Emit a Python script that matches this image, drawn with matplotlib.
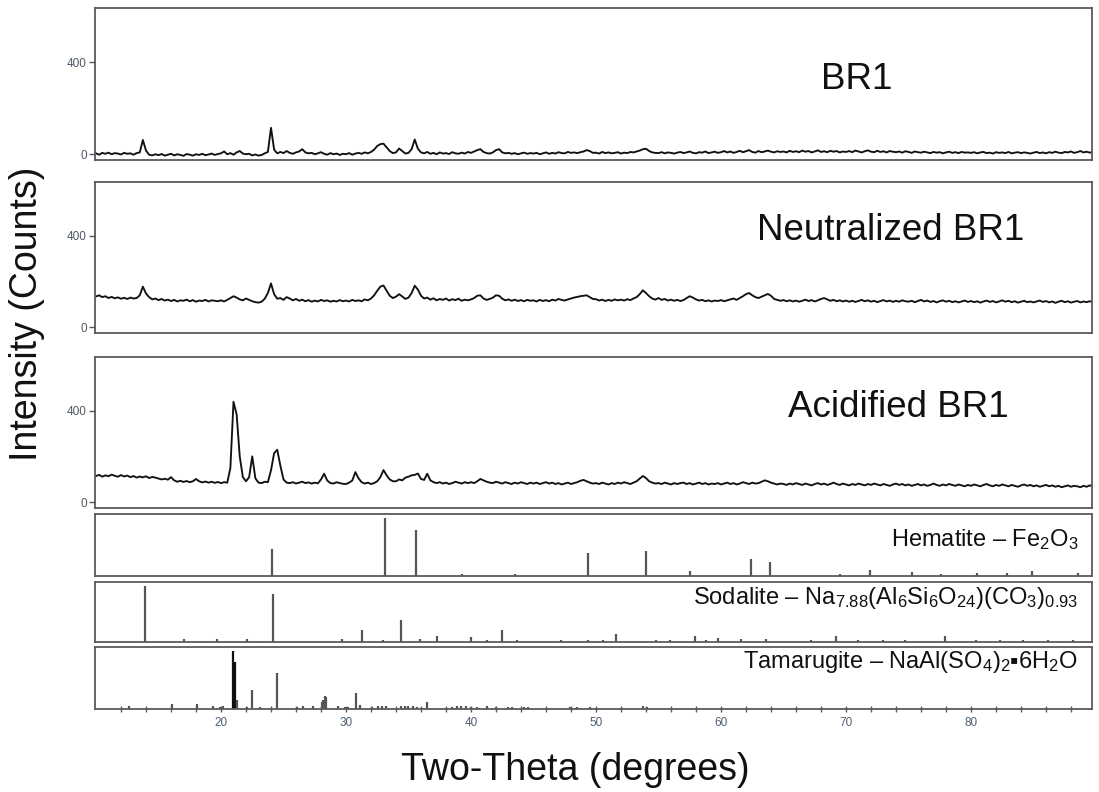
import numpy as np
import matplotlib.pyplot as plt

plt.rcParams['font.family'] = ['Liberation Sans', 'DejaVu Sans']
plt.rcParams['mathtext.fontset'] = 'custom'
plt.rcParams['mathtext.rm'] = 'Liberation Sans'
plt.rcParams['mathtext.it'] = 'Liberation Sans'
plt.rcParams['mathtext.default'] = 'regular'

# 2-theta sampling, 0.25 deg steps from 10 to 89.75
two_theta = np.round(np.arange(10, 89.76, 0.25), 2)

br1 = [
    4, -2, 6, 2, 7, 0, 5, 3, -1, 6, 2, 4, -2, 5, 8, 62, 16, -2, -5, 0,
    -4, 1, -6, -2, 2, -5, 0, -3, -7, 1, -2, -6, 0, -3, 2, -4, -1, 3, -3, 1,
    4, 12, 0, 5, -2, 8, 14, 3, 0, 2, -5, -1, -6, -3, 4, 10, 115, 20, 4, 10,
    5, 14, 6, 2, 8, 12, 22, 8, 4, 6, 0, 4, 9, 2, -2, 5, 0, 3, -3, 2,
    0, 5, -2, 3, 6, 2, 8, 4, 10, 20, 36, 44, 46, 30, 14, 5, 8, 25, 14, 3,
    6, 22, 64, 24, 8, 4, 10, 2, 6, 0, 8, 3, 5, 1, 9, 4, 2, 7, 3, 10,
    6, 12, 18, 22, 10, 5, 3, 8, 18, 22, 8, 4, 6, 2, 5, 0, 4, 7, 2, 5,
    3, 6, 0, 4, 8, 2, 6, 3, 9, 5, 4, 10, 6, 8, 5, 9, 12, 18, 14, 6,
    7, 3, 10, 5, 8, 4, 6, 9, 3, 7, 5, 10, 8, 12, 16, 22, 24, 14, 8, 6,
    5, 9, 4, 8, 6, 3, 7, 10, 5, 8, 12, 6, 4, 9, 7, 12, 5, 8, 11, 6,
    9, 14, 8, 12, 6, 10, 15, 9, 13, 18, 10, 7, 14, 9, 12, 16, 11, 8, 13, 10,
    12, 8, 15, 10, 13, 9, 16, 11, 14, 8, 12, 17, 10, 13, 9, 15, 11, 14, 8, 12,
    10, 14, 9, 16, 12, 8, 13, 17, 11, 9, 15, 10, 13, 8, 14, 11, 9, 12, 7, 13,
    10, 6, 12, 9, 7, 11, 8, 5, 10, 7, 9, 4, 8, 11, 6, 9, 5, 10, 7, 8,
    6, 9, 4, 8, 10, 5, 7, 3, 9, 6, 8, 5, 10, 4, 7, 9, 5, 8, 6, 3,
    7, 10, 5, 8, 4, 9, 6, 11, 7, 5, 10, 8, 12, 6, 9, 14, 8, 11, 7, 10,
]

neutralized = [
    135, 140, 132, 136, 128, 133, 127, 131, 125, 129, 124, 130, 126, 128, 140, 178, 148, 132, 122, 126,
    119, 124, 117, 121, 115, 120, 113, 118, 116, 121, 114, 119, 112, 117, 115, 120, 113, 118, 116, 114,
    118, 113, 120, 128, 136, 130, 122, 118, 126, 120, 114, 110, 108, 112, 125, 150, 192, 145, 125, 128,
    120, 132, 126, 118, 124, 116, 121, 114, 119, 112, 117, 113, 120, 115, 118, 112, 116, 113, 119, 114,
    117, 113, 120, 115, 118, 114, 122, 118, 126, 140, 160, 178, 183, 160, 138, 128, 134, 145, 135, 124,
    130, 150, 182, 165, 138, 126, 130, 121, 127, 118, 124, 120, 126, 117, 123, 119, 125, 116, 121, 118,
    122, 128, 138, 140, 126, 120, 124, 130, 140, 138, 125, 118, 122, 116, 121, 115, 119, 114, 120, 116,
    118, 113, 120, 115, 119, 114, 121, 117, 124, 120, 117, 122, 126, 130, 133, 136, 138, 140, 132, 124,
    123, 117, 121, 115, 120, 116, 122, 118, 121, 117, 123, 119, 126, 132, 145, 162, 150, 136, 126, 121,
    128, 120, 124, 117, 121, 116, 120, 115, 119, 128, 136, 130, 122, 117, 120, 114, 118, 113, 117, 115,
    119, 114, 118, 122, 126, 120, 128, 136, 145, 150, 140, 132, 128, 134, 140, 146, 138, 124, 120, 116,
    119, 114, 118, 113, 117, 112, 116, 121, 115, 119, 113, 118, 124, 128, 122, 116, 120, 114, 118, 113,
    117, 112, 116, 111, 115, 120, 114, 118, 112, 116, 110, 115, 119, 113, 117, 111, 116, 112, 118, 114,
    112, 116, 110, 115, 120, 113, 117, 111, 115, 109, 114, 118, 112, 116, 110, 114, 109, 113, 117, 111,
    115, 110, 114, 108, 113, 117, 111, 115, 109, 113, 118, 112, 116, 110, 114, 108, 112, 116, 110, 113,
    109, 113, 117, 111, 115, 109, 113, 107, 112, 116, 110, 114, 108, 112, 115, 109, 113, 110, 114, 111,
]

acidified = [
    115, 120, 112, 118, 114, 121, 116, 112, 119, 113, 117, 110, 115, 108, 113, 109, 114, 106, 111, 108,
    104, 100, 103, 99, 110, 96, 90, 94, 89, 93, 88, 92, 102, 92, 87, 91, 86, 90, 85, 89,
    84, 88, 86, 150, 440, 385, 200, 110, 92, 110, 201, 105, 86, 84, 90, 88, 140, 215, 230, 160,
    100, 86, 84, 88, 82, 86, 90, 84, 87, 82, 86, 83, 100, 125, 95, 84, 82, 88, 84, 81,
    80, 86, 95, 132, 105, 88, 82, 86, 80, 84, 92, 110, 141, 118, 100, 92, 92, 100, 96, 108,
    112, 118, 120, 126, 102, 98, 125, 96, 88, 84, 88, 82, 86, 80, 84, 90, 86, 82, 88, 84,
    88, 84, 92, 102, 96, 90, 86, 84, 90, 86, 82, 88, 84, 80, 86, 82, 88, 84, 80, 86,
    82, 86, 80, 84, 88, 82, 86, 80, 84, 78, 82, 86, 80, 84, 88, 94, 98, 92, 86, 82,
    84, 80, 86, 82, 78, 84, 80, 86, 82, 88, 84, 80, 86, 92, 104, 115, 106, 92, 86, 82,
    84, 80, 86, 82, 78, 84, 80, 84, 86, 80, 84, 78, 82, 86, 80, 84, 78, 82, 80, 84,
    78, 82, 86, 80, 84, 78, 82, 88, 84, 80, 86, 82, 84, 90, 96, 92, 86, 82, 78, 82,
    80, 76, 82, 78, 84, 80, 76, 82, 78, 74, 80, 84, 78, 82, 76, 80, 86, 80, 76, 82,
    78, 74, 80, 76, 82, 78, 74, 80, 76, 82, 78, 74, 80, 76, 72, 78, 82, 76, 80, 74,
    78, 72, 76, 80, 74, 78, 72, 76, 82, 76, 72, 78, 74, 80, 76, 72, 78, 74, 70, 76,
    72, 78, 74, 70, 76, 80, 74, 70, 76, 72, 78, 74, 70, 76, 72, 68, 74, 78, 72, 76,
    70, 74, 68, 72, 76, 70, 74, 68, 72, 66, 70, 74, 68, 72, 70, 66, 72, 68, 74, 70,
]

# reference stick patterns (relative intensity, %)
hematite_pos = [24.1, 33.1, 35.6, 39.3, 43.5, 49.4, 54.0, 57.5, 62.4, 63.9,
                69.5, 71.9, 75.3, 77.6, 80.5, 82.9, 84.9, 88.6]
hematite_int = [46, 100, 79, 4, 3, 40, 44, 9, 30, 25,
                3, 10, 7, 3, 5, 5, 8, 5]

sodalite_pos = [13.9, 17.0, 19.7, 22.1, 24.2, 29.7, 31.3, 33.0, 34.4, 35.9,
                37.3, 40.0, 41.3, 42.5, 43.7, 47.2, 49.4, 50.6, 51.6, 54.8,
                55.9, 57.9, 58.8, 59.8, 61.6, 63.6, 67.2, 69.2, 71.0, 73.0,
                74.7, 77.9, 80.4, 82.3, 84.2, 86.2, 88.2]
sodalite_int = [100, 5, 5, 5, 86, 5, 21, 4, 39, 5,
                10, 9, 3, 21, 3, 3, 3, 3, 14, 3,
                3, 10, 3, 8, 5, 5, 3, 10, 3, 3,
                3, 10, 3, 3, 3, 3, 3]

tamarugite_pos = [12.6, 16.1, 18.1, 19.4, 19.9, 20.2, 21.0, 21.1, 21.3, 22.1,
                  22.5, 23.1, 24.5, 26.1, 26.6, 27.4, 28.1, 28.2, 28.3, 28.4,
                  29.4, 29.9, 30.2, 30.8, 31.1, 32.1, 32.6, 32.9, 33.2, 34.4,
                  34.7, 35.0, 35.4, 35.7, 36.5, 38.5, 38.9, 39.2, 39.6, 40.0,
                  40.5, 41.3, 42.0, 43.0, 43.3, 44.2, 44.6, 47.9, 48.5, 49.5,
                  53.8, 54.1]
tamarugite_int = [6, 8, 8, 5, 4, 5, 100, 81, 16, 3,
                  33, 3, 62, 3, 5, 5, 12, 16, 22, 20,
                  6, 3, 3, 28, 7, 3, 5, 6, 6, 6,
                  6, 6, 6, 4, 12, 3, 5, 6, 5, 4,
                  3, 6, 3, 4, 3, 4, 3, 4, 3, 3,
                  5, 3]

sample_labels = ['BR1', 'Neutralized BR1', 'Acidified BR1']
phase_labels = ['Hematite – Fe$_2$O$_3$',
                'Sodalite – Na$_{7.88}$(Al$_6$Si$_6$O$_{24}$)(CO$_3$)$_{0.93}$',
                'Tamarugite – NaAl(SO$_4$)$_2$▪6H$_2$O']
x_major = [20, 30, 40, 50, 60, 70, 80]
x_minor = [12, 14, 16, 18, 22, 24, 26, 28, 32, 34, 36, 38, 42, 44, 46, 48,
           52, 54, 56, 58, 62, 64, 66, 68, 72, 74, 76, 78, 82, 84, 86, 88]

W, H = 1099, 792
fig = plt.figure(figsize=(W / 100, H / 100), dpi=100)

left, right = 95 / W, 1092 / W
XLIM = (9.92, 89.68)
frame = '#5a5a5a'


def make_ax(top_px, bottom_px):
    ax = fig.add_axes([left, 1 - bottom_px / H, right - left, (bottom_px - top_px) / H])
    for s in ax.spines.values():
        s.set_color(frame)
        s.set_linewidth(1.3)
    ax.set_xlim(*XLIM)
    return ax


# measured patterns
sample_boxes = [(8, 160), (182, 333), (357, 508)]
sample_text = [(857, 89), (891, 240), (898, 417)]
for (t, b), data, lab, (tx, ty) in zip(sample_boxes, [br1, neutralized, acidified],
                                        sample_labels, sample_text):
    ax = make_ax(t, b)
    ax.plot(two_theta, data, color='#111111', lw=1.35)
    ax.set_ylim(-25, 636)
    ax.set_yticks([0, 400])
    ax.set_xticks([])
    ax.tick_params(axis='y', direction='out', length=4, width=1, color=frame,
                   labelsize=8.5, labelcolor='#4f5866', pad=2)
    fig.text(tx / W, 1 - ty / H, lab, fontsize=26.5, ha='center', va='baseline',
             color='#111111')

# reference stick patterns
phase_boxes = [(514, 576), (582, 642), (647, 709)]
phase_text = [546, 604, 668]
phase_data = [(hematite_pos, hematite_int), (sodalite_pos, sodalite_int),
              (tamarugite_pos, tamarugite_int)]
for i, ((t, b), (pos, inten), lab, ty) in enumerate(zip(phase_boxes, phase_data,
                                                       phase_labels, phase_text)):
    ax = make_ax(t, b)
    cols = ['#111111' if (lab.startswith('Tamarugite') and v > 70) else '#555555'
            for v in inten]
    ax.vlines(pos, 0, inten, colors=cols, lw=1.6)
    ax.set_ylim(0, 107)
    ax.set_yticks([])
    if i < 2:
        ax.set_xticks([])
    else:
        ax.set_xticks(x_major)
        ax.set_xticks(x_minor, minor=True)
        ax.tick_params(axis='x', which='both', direction='inout', length=5, width=1,
                       color=frame, labelsize=8.5, labelcolor='#4f5f74', pad=3)
    fig.text(1078 / W, 1 - ty / H, lab, fontsize=17, ha='right', va='baseline',
             color='#111111')

fig.text(27 / W, 1 - 314 / H, 'Intensity (Counts)', rotation=90, fontsize=27,
         ha='center', va='center', color='#111111')
fig.text(575 / W, 1 - 770 / H, 'Two-Theta (degrees)', fontsize=27,
         ha='center', va='center', color='#111111')

fig.savefig('out.png', dpi=100)
